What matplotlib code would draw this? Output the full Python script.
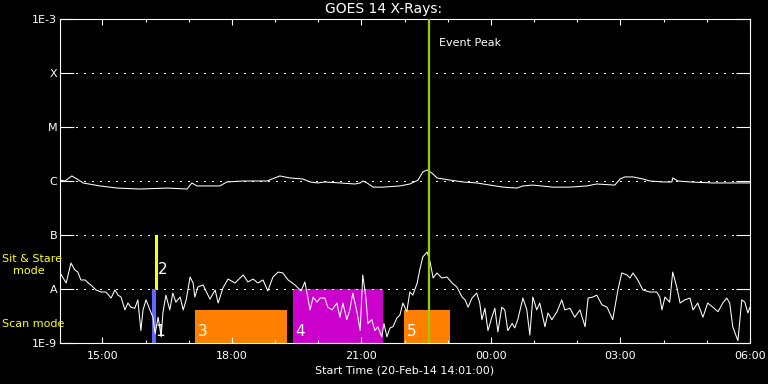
import numpy as np
import matplotlib
matplotlib.use('Agg')
import matplotlib.pyplot as plt
from matplotlib.patches import Rectangle

# time in hours after 20-Feb-14 14:00 UT
t_long = [0.02, 0.13, 0.29, 0.41, 0.55, 0.94, 1.34, 1.87, 2.50, 2.96, 3.07, 3.19,
          3.72, 3.88, 4.26, 4.81, 5.11, 5.34, 5.64, 5.81, 5.99, 6.15, 6.50, 6.85,
          6.97, 7.03, 7.13, 7.27, 7.50, 7.89, 8.12, 8.31, 8.42, 8.52, 8.63, 8.75,
          8.89, 9.05, 9.35, 9.67, 9.98, 10.28, 10.60, 10.74, 10.97, 11.43, 11.83,
          12.22, 12.45, 12.87, 12.99, 13.10, 13.29, 13.52, 13.68, 13.98, 14.19,
          14.21, 14.33, 14.61, 15.14, 15.70, 16.00]
# 1-8 A flux, units of 1e-6 W/m^2
flux_long = [1.04, 1.00, 1.24, 1.09, 0.92, 0.81, 0.74, 0.71, 0.74, 0.71, 0.92, 0.81,
             0.81, 0.96, 1.00, 1.00, 1.24, 1.14, 1.09, 0.96, 0.92, 0.96, 0.92, 0.88,
             0.92, 1.00, 0.92, 0.77, 0.77, 0.81, 0.88, 1.04, 1.47, 1.60, 1.41, 1.14,
             1.09, 1.04, 0.96, 0.92, 0.84, 0.77, 0.74, 0.81, 0.84, 0.77, 0.77,
             0.81, 0.88, 0.84, 1.09, 1.19, 1.19, 1.09, 1.00, 0.96, 0.96,
             1.14, 1.00, 0.96, 0.92, 0.92, 0.92]

t_short = [0.02, 0.16, 0.27, 0.36, 0.43, 0.50, 0.60, 0.67, 0.73, 0.85, 0.97, 1.08,
           1.20, 1.29, 1.36, 1.43, 1.52, 1.59, 1.66, 1.75, 1.82, 1.89, 1.94, 2.01,
           2.10, 2.17, 2.22, 2.29, 2.36, 2.40, 2.47, 2.56, 2.63, 2.70, 2.80, 2.87,
           2.94, 3.03, 3.10, 3.14, 3.21, 3.33, 3.49, 3.61, 3.68, 3.79, 3.91, 4.07,
           4.26, 4.37, 4.49, 4.60, 4.72, 4.83, 4.95, 5.07, 5.18, 5.30, 5.46, 5.60,
           5.69, 5.81, 5.88, 5.97, 6.04, 6.15, 6.22, 6.32, 6.43, 6.50, 6.57, 6.66,
           6.73, 6.80, 6.90, 6.97, 7.03, 7.10, 7.15, 7.24, 7.31, 7.38, 7.47, 7.52,
           7.59, 7.66, 7.73, 7.82, 7.89, 7.96, 8.05, 8.12, 8.19, 8.29, 8.35, 8.42,
           8.52, 8.59, 8.66, 8.75, 8.86, 8.98, 9.10, 9.21, 9.33, 9.40, 9.47, 9.56,
           9.67, 9.74, 9.79, 9.86, 9.93, 10.02, 10.09, 10.16, 10.25, 10.32, 10.39,
           10.49, 10.55, 10.62, 10.74, 10.83, 10.90, 10.97, 11.06, 11.13, 11.25,
           11.32, 11.41, 11.53, 11.64, 11.71, 11.83, 11.94, 12.06, 12.18, 12.25,
           12.36, 12.45, 12.57, 12.69, 12.82, 12.94, 13.03, 13.15, 13.22, 13.29,
           13.40, 13.52, 13.68, 13.84, 13.91, 13.96, 14.03, 14.14, 14.21, 14.31,
           14.38, 14.49, 14.61, 14.68, 14.79, 14.91, 15.02, 15.14, 15.26, 15.37,
           15.46, 15.53, 15.60, 15.72, 15.81, 15.88, 15.95, 16.00]
# 0.5-4 A flux, units of 1e-9 W/m^2
flux_short = [19.8, 12.9, 30.3, 22.5, 20.6, 14.7, 14.7, 12.9, 11.9, 9.6, 8.8, 8.8,
              6.8, 9.6, 7.7, 7.1, 4.1, 5.5, 4.6, 4.4, 6.3, 1.7, 4.1, 6.3,
              4.1, 3.0, 1.5, 3.0, 1.3, 3.6, 7.7, 4.1, 8.4, 5.7, 7.1, 4.1,
              6.3, 16.7, 12.9, 7.1, 10.9, 11.9, 6.5, 9.6, 5.5, 10.4, 15.3, 12.9,
              18.2, 13.5, 15.3, 12.9, 14.7, 9.2, 16.7, 20.6, 19.8, 14.7, 11.9, 9.2,
              13.5, 4.1, 7.1, 5.7, 6.8, 6.8, 4.6, 4.1, 5.5, 3.0, 5.5, 2.7,
              4.1, 8.4, 3.6, 1.7, 18.2, 7.1, 2.3, 2.7, 1.7, 2.0, 1.3, 2.3,
              1.3, 1.9, 2.0, 2.9, 3.3, 5.5, 3.8, 8.8, 7.7, 12.9, 22.5, 39.1,
              48.4, 31.6, 16.0, 19.8, 16.0, 16.7, 12.9, 10.9, 7.1, 6.3, 4.6, 6.8,
              8.4, 5.5, 2.7, 4.4, 1.7, 3.0, 4.4, 1.6, 4.6, 4.1, 1.7,
              2.3, 1.9, 2.7, 6.8, 4.1, 1.4, 7.1, 4.1, 5.5, 2.0,
              3.6, 2.7, 3.8, 6.3, 4.1, 4.4, 3.0, 4.1, 2.0, 6.8,
              7.1, 7.7, 5.1, 4.6, 2.7, 9.6, 19.8, 18.2, 16.0, 19.8,
              14.7, 9.6, 8.8, 8.8, 7.1, 4.1, 7.1, 5.7, 20.6, 10.4,
              5.5, 6.3, 6.8, 4.1, 5.5, 3.0, 5.5, 4.6, 3.8, 5.5,
              6.8, 5.5, 2.0, 1.1, 6.3, 5.7, 3.6, 4.6]

# observation windows (hours after 14:00) and flux range of each bar
obs_num = ['1', '2', '3', '4', '5']
obs_start = [2.15, 2.21, 3.14, 5.41, 7.98]
obs_end = [2.23, 2.28, 5.27, 7.50, 9.05]
obs_low = [1e-9, 1e-8, 1e-9, 1e-9, 1e-9]
obs_high = [1e-8, 1e-7, 4e-9, 1e-8, 4e-9]
peak_time = 8.56

time_ticks = [1, 4, 7, 10, 13, 16]
time_labels = ['15:00', '18:00', '21:00', '00:00', '03:00', '06:00']
level_ticks = [1e-9, 1e-8, 1e-7, 1e-6, 1e-5, 1e-4, 1e-3]
level_labels = ['1E-9', 'A', 'B', 'C', 'M', 'X', '1E-3']

obs_colors = ['#6464ff', '#ffff00', '#ff8000', '#cc00cc', '#ff8000']

fig = plt.figure(figsize=(7.68, 3.84), dpi=100, facecolor='black')
ax = fig.add_axes([60/768, 41/384, 690/768, 324/384], facecolor='black')

for i in range(len(obs_num)):
    ax.add_patch(Rectangle((obs_start[i], obs_low[i]), obs_end[i]-obs_start[i],
                           obs_high[i]-obs_low[i], facecolor=obs_colors[i],
                           edgecolor='none', zorder=1))
    dy = 3 if obs_low[i] == 1e-9 else 9
    ax.annotate(obs_num[i], (obs_start[i], obs_low[i]), xytext=(2, dy),
                textcoords='offset points', color='white', fontsize=11,
                va='bottom', ha='left', zorder=5)

ax.plot(t_long, np.array(flux_long)*1e-6, color='white', lw=0.75, zorder=3)
ax.plot(t_short, np.array(flux_short)*1e-9, color='white', lw=0.75, zorder=3)
ax.axvline(peak_time, color='#9acd00', lw=1.6, zorder=4)
ax.text(peak_time+0.23, 3.6e-4, 'Event Peak', color='white', fontsize=8,
        va='center', ha='left')

ax.set_yscale('log')
ax.set_ylim(1e-9, 1e-3)
ax.set_xlim(1/60, 16)
ax.set_yticks(level_ticks)
ax.set_yticklabels(level_labels)
ax.yaxis.set_minor_locator(matplotlib.ticker.NullLocator())
ax.set_xticks(time_ticks)
ax.set_xticklabels(time_labels)
ax.set_xticks(np.arange(1, 16), minor=True)

ax.grid(axis='y', which='major', color='white', linestyle=(0, (1, 5)), lw=0.9,
        antialiased=False)
ax.tick_params(axis='y', which='major', direction='in', length=10, width=0.8,
               left=True, right=True, colors='white', labelsize=8, pad=2)
ax.tick_params(axis='x', which='major', direction='in', length=4.3, width=0.8,
               top=True, colors='white', labelsize=8, pad=6)
ax.tick_params(axis='x', which='minor', direction='in', length=2.2, width=0.8,
               top=True, colors='white')
for s in ax.spines.values():
    s.set_color('white')
    s.set_linewidth(0.8)

ax.set_xlabel('Start Time (20-Feb-14 14:01:00)', color='white', fontsize=8, labelpad=3)
fig.text(0.5, 1-9/384, 'GOES 14 X-Rays:', color='white', fontsize=10,
         ha='center', va='center')
fig.text(2/768, 1-259/384, 'Sit & Stare', color='#ffff00', fontsize=8, va='center')
fig.text(13/768, 1-271/384, 'mode', color='#ffff00', fontsize=8, va='center')
fig.text(2/768, 1-324/384, 'Scan mode', color='#ffff00', fontsize=8, va='center')

fig.savefig('out.png', dpi=100, facecolor='black')
